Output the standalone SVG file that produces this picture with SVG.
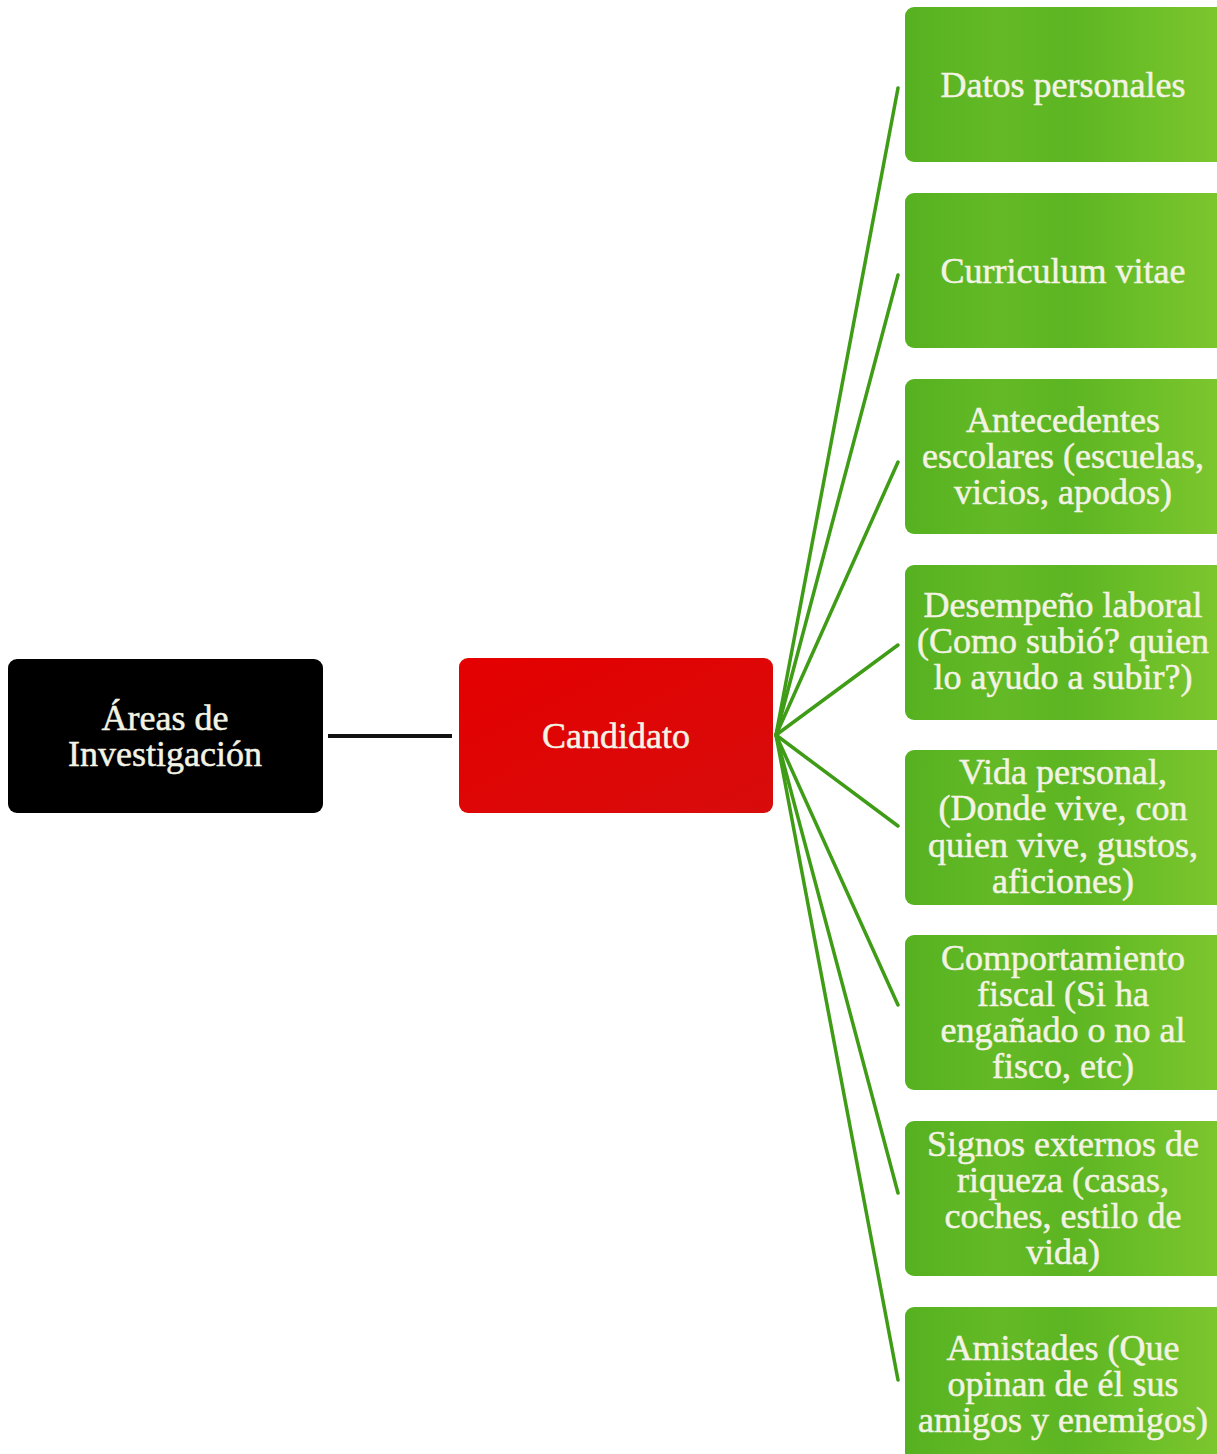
<svg xmlns="http://www.w3.org/2000/svg" width="1217" height="1454" viewBox="0 0 1217 1454">
<style>
.t{font-family:"Liberation Serif","DejaVu Serif",serif;font-size:36px;fill:#f3f3e4;stroke:#f3f3e4;stroke-width:0.5;text-anchor:middle}
.g{fill:url(#grn)}
.c{stroke:#3f9c16;stroke-width:3.5;fill:none;stroke-linecap:round}
</style>
<defs>
<linearGradient id="grn" x1="0" y1="0" x2="1" y2="0">
<stop offset="0" stop-color="#56b120"/>
<stop offset="0.3" stop-color="#64ba26"/>
<stop offset="0.5" stop-color="#5cb522"/>
<stop offset="0.75" stop-color="#6cbf28"/>
<stop offset="1" stop-color="#7ec62e"/>
</linearGradient>
<linearGradient id="red" x1="0" y1="0" x2="1" y2="1">
<stop offset="0" stop-color="#e40000"/>
<stop offset="1" stop-color="#d80c0c"/>
</linearGradient>
</defs>
<rect width="1217" height="1454" fill="#ffffff"/>
<g id="connectors">
<line x1="328" y1="736" x2="452" y2="736" stroke="#111" stroke-width="4"/>
<line class="c" x1="776" y1="735" x2="898" y2="88"/>
<line class="c" x1="776" y1="735" x2="898" y2="275"/>
<line class="c" x1="776" y1="735" x2="898" y2="462"/>
<line class="c" x1="776" y1="735" x2="898" y2="645"/>
<line class="c" x1="776" y1="735" x2="898" y2="826"/>
<line class="c" x1="776" y1="735" x2="898" y2="1005"/>
<line class="c" x1="776" y1="735" x2="898" y2="1193"/>
<line class="c" x1="776" y1="735" x2="898" y2="1380"/>
</g>
<g id="areas">
<rect x="8" y="659" width="315" height="154" rx="9" fill="#000"/>
<text class="t" x="165" y="730">Áreas de</text>
<text class="t" x="165" y="766">Investigación</text>
</g>
<g id="candidato">
<rect x="459" y="658" width="314" height="155" rx="9" fill="url(#red)"/>
<text class="t" x="616" y="748">Candidato</text>
</g>
<g id="datos">
<rect class="g" x="905" y="7" width="320" height="155" rx="9"/>
<text class="t" x="1063" y="97">Datos personales</text>
</g>
<g id="curriculum">
<rect class="g" x="905" y="193" width="320" height="155" rx="9"/>
<text class="t" x="1063" y="283">Curriculum vitae</text>
</g>
<g id="antecedentes">
<rect class="g" x="905" y="379" width="320" height="155" rx="9"/>
<text class="t" x="1063" y="432">Antecedentes</text>
<text class="t" x="1063" y="468">escolares (escuelas,</text>
<text class="t" x="1063" y="504">vicios, apodos)</text>
</g>
<g id="desempeno">
<rect class="g" x="905" y="565" width="320" height="155" rx="9"/>
<text class="t" x="1063" y="617">Desempeño laboral</text>
<text class="t" x="1063" y="653">(Como subió? quien</text>
<text class="t" x="1063" y="689">lo ayudo a subir?)</text>
</g>
<g id="vida">
<rect class="g" x="905" y="750" width="320" height="155" rx="9"/>
<text class="t" x="1063" y="784">Vida personal,</text>
<text class="t" x="1063" y="820">(Donde vive, con</text>
<text class="t" x="1063" y="857">quien vive, gustos,</text>
<text class="t" x="1063" y="893">aficiones)</text>
</g>
<g id="fiscal">
<rect class="g" x="905" y="935" width="320" height="155" rx="9"/>
<text class="t" x="1063" y="970">Comportamiento</text>
<text class="t" x="1063" y="1006">fiscal (Si ha</text>
<text class="t" x="1063" y="1042">engañado o no al</text>
<text class="t" x="1063" y="1078">fisco, etc)</text>
</g>
<g id="signos">
<rect class="g" x="905" y="1121" width="320" height="155" rx="9"/>
<text class="t" x="1063" y="1156">Signos externos de</text>
<text class="t" x="1063" y="1192">riqueza (casas,</text>
<text class="t" x="1063" y="1228">coches, estilo de</text>
<text class="t" x="1063" y="1264">vida)</text>
</g>
<g id="amistades">
<rect class="g" x="905" y="1307" width="320" height="160" rx="9"/>
<text class="t" x="1063" y="1360">Amistades (Que</text>
<text class="t" x="1063" y="1396">opinan de él sus</text>
<text class="t" x="1063" y="1432">amigos y enemigos)</text>
</g>
</svg>
